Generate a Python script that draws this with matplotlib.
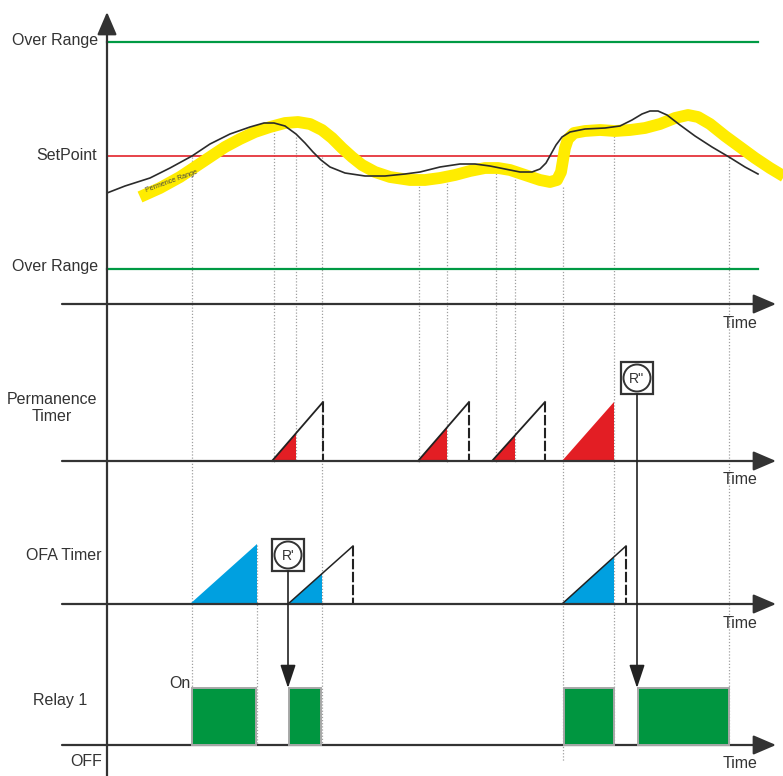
import matplotlib
matplotlib.use("Agg")
import matplotlib.pyplot as plt
from matplotlib.patches import Rectangle, Circle, Polygon

plt.rcParams['font.family'] = ['Liberation Sans', 'DejaVu Sans']

# -------------------------------
# Data (pixel units of the diagram, y grows downward)
# -------------------------------

# process value (black curve)
pv_x = [107, 125, 150, 170, 192, 210, 230, 250, 264, 274, 285, 296, 305, 313, 321,
        330, 345, 365, 385, 405, 420, 440, 460, 475, 490, 505, 520, 532, 540, 546,
        551, 556, 562, 570, 585, 605, 620, 632, 642, 650, 658, 667, 680, 695, 712,
        729, 745, 758]
pv_y = [193, 186, 178, 168, 156, 144, 134, 127, 123, 123, 126, 134, 143, 152, 160,
        167, 173, 176, 176, 174, 172, 167, 164, 164, 166, 169, 172, 172, 169, 163,
        154, 145, 137, 132, 129, 128, 126, 120, 114, 111, 111, 115, 125, 136, 147,
        157, 167, 174]

# permanence range band (yellow)
band_x = [140, 160, 180, 195, 210, 225, 240, 255, 270, 285, 298, 310, 322, 332, 342,
          352, 362, 375, 390, 410, 425, 440, 455, 470, 485, 498, 510, 525, 540, 550,
          557, 561, 563, 565, 568, 574, 585, 600, 615, 630, 645, 660, 675, 688, 698,
          710, 725, 740, 755, 770, 790]
band_y = [197, 188, 177, 167, 157, 147, 139, 132, 127, 123, 122, 124, 130, 138, 148,
          157, 165, 172, 177, 180, 180, 178, 175, 171, 168, 168, 170, 175, 180, 182,
          180, 172, 160, 148, 139, 133, 131, 130, 131, 130, 128, 124, 118, 115, 117,
          124, 136, 147, 158, 168, 180]

over_hi, setpoint, over_lo = 42, 156, 269

# permanence timer ramps: start, end of red part, end of the ramp
perm_start = [272, 418, 492, 562]
perm_fill = [296, 447, 515, 614]
perm_end = [323, 469, 545, 614]
perm_height = 59

# OFA timer ramps
ofa_start = [190, 288, 562]
ofa_fill = [257, 322, 614]
ofa_end = [257, 353, 626]
ofa_height = [60, 58, 58]

# relay 1 on periods
relay_on = [192, 289, 564, 638]
relay_off = [256, 321, 614, 729]

# event markers (dotted guides): x, top, bottom
guide_x = [192, 274, 296, 322, 419, 447, 496, 515, 563, 614, 729, 257]
guide_top = [157, 127, 137, 157, 177, 177, 167, 173, 187, 133, 157, 545]
guide_bot = [745, 462, 462, 745, 462, 462, 462, 462, 762, 745, 745, 745]

# reset markers R' and R''
reset_labels = ["R'", "R''"]
reset_x = [288, 637]
reset_y = [555, 378]

axis_y = [304, 461, 604, 745]

# -------------------------------
# Figure
# -------------------------------
fig = plt.figure(figsize=(7.83, 7.76), dpi=100)
ax = fig.add_axes([0, 0, 1, 1])
ax.set_xlim(0, 783)
ax.set_ylim(776, 0)
ax.axis('off')

dark = '#333333'

# guides
for x, t, b in zip(guide_x, guide_top, guide_bot):
    ax.plot([x, x], [t, b], color='#a0a0a0', lw=0.9, ls=(0, (1, 1.5)), zorder=1)

# level lines
ax.plot([107, 758], [over_hi, over_hi], color='#009a44', lw=1.6, zorder=2)
ax.plot([107, 758], [over_lo, over_lo], color='#009a44', lw=1.6, zorder=2)
ax.plot([107, 758], [setpoint, setpoint], color='#e3232b', lw=1.2, zorder=2)

# curves
ax.plot(band_x, band_y, color='#ffec00', lw=8.5, solid_capstyle='butt',
        solid_joinstyle='round', zorder=3)
ax.plot(pv_x, pv_y, color='#2b2b2b', lw=1.2, zorder=4)
ax.text(172, 181, 'Permence Range', fontsize=5, rotation=20, color='#444444',
        ha='center', va='center', zorder=5)

# axes with arrows
for y in axis_y:
    ax.annotate('', xy=(776, y), xytext=(62, y),
                arrowprops=dict(arrowstyle='-|>,head_length=0.7,head_width=0.3',
                                mutation_scale=20, lw=1.6, color=dark,
                                shrinkA=0, shrinkB=0), zorder=6)
    ax.text(740, y + 19, 'Time', fontsize=11.5, color=dark, ha='center', va='center')
ax.annotate('', xy=(107, 12), xytext=(107, 776),
            arrowprops=dict(arrowstyle='-|>,head_length=0.7,head_width=0.3',
                            mutation_scale=20, lw=1.6, color=dark,
                            shrinkA=0, shrinkB=0), zorder=6)

# permanence timer
py = axis_y[1]
for s, f, e in zip(perm_start, perm_fill, perm_end):
    k = perm_height / (e - s)
    hf = k * (f - s)
    ax.add_patch(Polygon([(s, py), (f, py), (f, py - hf)], closed=True,
                         facecolor='#e31e24', edgecolor='none', zorder=4))
    if e > f:
        ax.plot([s, e], [py, py - perm_height], color='#222222', lw=1.3, zorder=5)
        ax.plot([e, e], [py - perm_height, py], color='#222222', lw=1.5,
                ls=(0, (5, 1.2)), zorder=5)

# OFA timer
oy = axis_y[2]
for s, f, e, h in zip(ofa_start, ofa_fill, ofa_end, ofa_height):
    k = h / (e - s)
    hf = k * (f - s)
    ax.add_patch(Polygon([(s, oy), (f, oy), (f, oy - hf)], closed=True,
                         facecolor='#00a0e0', edgecolor='none', zorder=4))
    if e > f:
        ax.plot([s, e], [oy, oy - h], color='#222222', lw=1.1, zorder=5)
        ax.plot([e, e], [oy - h, oy], color='#222222', lw=1.5,
                ls=(0, (5, 1.2)), zorder=5)

# relay
ry = axis_y[3]
for a, b in zip(relay_on, relay_off):
    ax.add_patch(Rectangle((a, ry - 57), b - a, 57, facecolor='#009640',
                           edgecolor='#a8a8a8', lw=1.4, zorder=7))

# reset markers
for lab, x, y in zip(reset_labels, reset_x, reset_y):
    ax.add_patch(Rectangle((x - 16, y - 16), 32, 32, facecolor='white',
                           edgecolor=dark, lw=1.6, zorder=8))
    ax.add_patch(Circle((x, y), 13.5, facecolor='white', edgecolor=dark,
                        lw=1.4, zorder=9))
    ax.text(x, y + 1, lab, fontsize=10, color=dark, ha='center', va='center',
            zorder=10)
    ax.annotate('', xy=(x, 688), xytext=(x, y + 16),
                arrowprops=dict(arrowstyle='-|>,head_length=0.75,head_width=0.25',
                                mutation_scale=19, lw=1.2, color='#222222',
                                shrinkA=0, shrinkB=0), zorder=8)

# labels
lab_kw = dict(fontsize=11.5, color=dark)
ax.text(98, 40, 'Over Range', ha='right', va='center', **lab_kw)
ax.text(97, 155, 'SetPoint', ha='right', va='center', **lab_kw)
ax.text(98, 266, 'Over Range', ha='right', va='center', **lab_kw)
ax.text(52, 408, 'Permanence\nTimer', ha='center', va='center',
        multialignment='center', linespacing=1.1, **lab_kw)
ax.text(102, 555, 'OFA Timer', ha='right', va='center', **lab_kw)
ax.text(60, 701, 'Relay 1', ha='center', va='center', **lab_kw)
ax.text(191, 683, 'On', ha='right', va='center', **lab_kw)
ax.text(102, 762, 'OFF', ha='right', va='center', **lab_kw)

fig.savefig('out.png', dpi=100)
